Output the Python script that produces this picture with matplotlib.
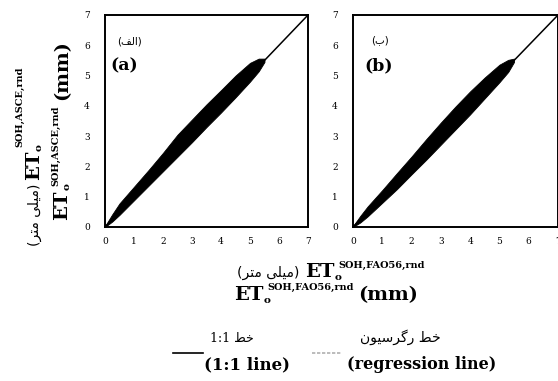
import matplotlib
matplotlib.use("Agg")
import matplotlib.pyplot as plt
from matplotlib.lines import Line2D

W, H = 558, 381

# ---------------- data ----------------
ticks = [0, 1, 2, 3, 4, 5, 6, 7]
tick_labels = ["0", "1", "2", "3", "4", "5", "6", "7"]
one_to_one = [0, 7]

# envelope of the scatter cloud, panel (a): FAO56 (x) vs ASCE (y)
x_a = [0.0, 0.25, 0.5, 1.0, 1.5, 2.0, 2.5, 3.0, 3.5, 4.0, 4.5, 5.0, 5.3, 5.5]
lo_a = [0.0, 0.18, 0.40, 0.88, 1.36, 1.84, 2.32, 2.80, 3.30, 3.78, 4.28, 4.80, 5.14, 5.45]
hi_a = [0.03, 0.42, 0.78, 1.33, 1.88, 2.45, 3.05, 3.55, 4.05, 4.52, 5.00, 5.42, 5.56, 5.56]

# envelope of the scatter cloud, panel (b)
x_b = [0.0, 0.25, 0.5, 1.0, 1.5, 2.0, 2.5, 3.0, 3.5, 4.0, 4.5, 5.0, 5.3, 5.5]
lo_b = [0.0, 0.15, 0.35, 0.80, 1.25, 1.74, 2.22, 2.72, 3.22, 3.72, 4.25, 4.78, 5.12, 5.45]
hi_b = [0.03, 0.37, 0.68, 1.22, 1.78, 2.33, 2.90, 3.45, 3.98, 4.48, 4.94, 5.36, 5.52, 5.56]

# ---------------- texts ----------------
# Persian strings written in visual (presentation-form) order
fa_mm = "(\uFEAE\uFE98\uFEE3 \uFBFD\uFEE0\uFBFF\uFEE3)"          # (میلی متر)
fa_a = "(\uFED2\uFEDF\uFE8D)"                                      # (الف)
fa_b = "(\uFE8F)"                                                  # (ب)
fa_line11 = "1:1 \uFEC2\uFEA7"                                     # خط 1:1
fa_reg = "\uFEE5\uFEEE\uFBFF\uFEB3\uFEAE\uFB94\uFEAD \uFEC2\uFEA7"  # خط رگرسیون
en_a, en_b = "(a)", "(b)"
en_line11 = "(1:1 line)"
en_reg = "(regression line)"
sup_x = "SOH,FAO56,rnd"
sup_y = "SOH,ASCE,rnd"

SERIF = ["DejaVu Serif", "DejaVu Sans"]
SANS = ["DejaVu Sans"]

fig = plt.figure(figsize=(W / 100, H / 100), dpi=100)


def px_axes(l, r, t, b):
    return fig.add_axes([l / W, 1 - b / H, (r - l) / W, (b - t) / H])


def fx(x):
    return x / W


def fy(y):
    return 1 - y / H


panels = [
    (px_axes(105, 308, 15, 227), x_a, lo_a, hi_a, fa_a, en_a, (130, 42), (110, 66)),
    (px_axes(353, 558, 15, 227), x_b, lo_b, hi_b, fa_b, en_b, (380, 40), (364, 66)),
]

for ax, xs, lo, hi, fa_lab, en_lab, fa_pos, en_pos in panels:
    ax.fill_between(xs, lo, hi, color="black", lw=0.6, edgecolor="black", zorder=2)
    ax.plot(one_to_one, one_to_one, color="black", lw=1.1, zorder=3, clip_on=False)
    ax.set_xlim(0, 7)
    ax.set_ylim(0, 7)
    ax.set_xticks(ticks)
    ax.set_yticks(ticks)
    ax.set_xticklabels(tick_labels, family=SERIF, fontsize=6.5)
    ax.set_yticklabels(tick_labels, family=SERIF, fontsize=6.5)
    ax.tick_params(axis="both", length=0)
    ax.tick_params(axis="x", pad=7)
    ax.tick_params(axis="y", pad=11)
    for sp in ax.spines.values():
        sp.set_linewidth(1.4)
        sp.set_color("black")
    fig.text(fx(fa_pos[0]), fy(fa_pos[1]), fa_lab, family=SANS, fontsize=7.5,
             ha="center", va="center")
    fig.text(fx(en_pos[0]), fy(en_pos[1]), en_lab, family=SERIF, fontsize=12.5,
             weight="bold", ha="left", va="center")

renderer = fig.canvas.get_renderer()


def compose(pieces, cx, cy, rot=0):
    """pieces: (text, size, weight, family, raise_px, gap_after_px);
    centred on cx (horizontal) or cy (rotated); baseline at cy / cx."""
    widths = []
    for s, size, weight, fam, dy, gap in pieces:
        t = fig.text(0, 0, s, fontsize=size, weight=weight, family=fam)
        bb = t.get_window_extent(renderer)
        widths.append(bb.width)
        t.remove()
    total = sum(widths) + sum(p[5] for p in pieces)
    pos = -total / 2
    for (s, size, weight, fam, dy, gap), w in zip(pieces, widths):
        if rot == 0:
            x, y = cx + pos, cy - dy
            fig.text(fx(x), fy(y), s, fontsize=size, weight=weight, family=fam,
                     ha="left", va="baseline")
        else:
            x, y = cx - dy, cy - pos
            fig.text(fx(x), fy(y), s, fontsize=size, weight=weight, family=fam,
                     ha="left", va="baseline", rotation=90, rotation_mode="anchor")
        pos += w + gap


ET = 14
SUB = 7.5
SUP = 7
# x labels
compose([(fa_mm, 10, "normal", SANS, 0, 5),
         ("ET", ET, "bold", SERIF, 0, 0),
         ("o", SUB, "bold", SERIF, -3, -3),
         (sup_x, SUP, "bold", SERIF, 9, 0)], 331, 277)
compose([("ET", ET, "bold", SERIF, 0, 0),
         ("o", SUB, "bold", SERIF, -3, -3),
         (sup_x, SUP, "bold", SERIF, 10, 5),
         ("(mm)", ET, "bold", SERIF, 0, 0)], 326, 300)
# y labels
compose([(fa_mm, 10, "normal", SANS, 0, 3),
         ("ET", ET, "bold", SERIF, 0, 0),
         ("o", SUB, "bold", SERIF, -3, -3),
         (sup_y, SUP, "bold", SERIF, 17, 0)], 39, 156, rot=90)
compose([("ET", ET, "bold", SERIF, 0, 0),
         ("o", SUB, "bold", SERIF, -3, -3),
         (sup_y, SUP, "bold", SERIF, 9, 6),
         ("(mm)", ET, "bold", SERIF, 0, 0)], 67, 130, rot=90)

# legend
fig.add_artist(Line2D([fx(173), fx(203)], [fy(353), fy(353)], color="black", lw=1.2))
fig.add_artist(Line2D([fx(312), fx(342)], [fy(353), fy(353)], color="#b0b0b0", lw=1.2,
                      ls=(0, (2, 1))))
fig.text(fx(232), fy(342), fa_line11, family=["DejaVu Serif", "DejaVu Sans"], fontsize=9,
         ha="center", va="baseline")
fig.text(fx(247), fy(369), en_line11, family=SERIF, fontsize=12, weight="bold",
         ha="center", va="baseline")
fig.text(fx(400), fy(342), fa_reg, family=SANS, fontsize=10, ha="center", va="baseline")
fig.text(fx(422), fy(369), en_reg, family=SERIF, fontsize=11.5, weight="bold",
         ha="center", va="baseline")

fig.savefig("out.png", dpi=100)
